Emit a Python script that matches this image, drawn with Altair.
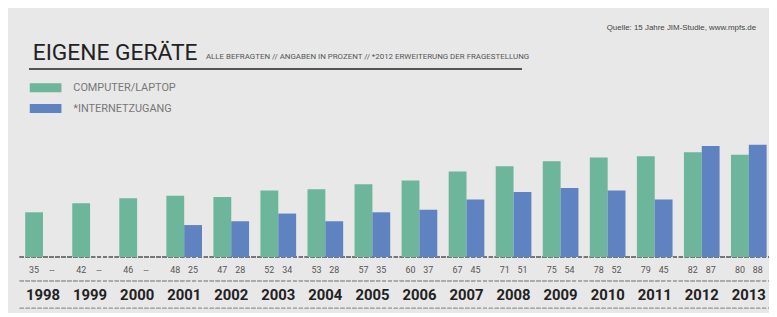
import altair as alt
import pandas as pd

years = [str(y) for y in range(1998, 2014)]
computer = [35, 42, 46, 48, 47, 52, 53, 57, 60, 67, 71, 75, 78, 79, 82, 80]
internet = [None, None, None, 25, 28, 34, 28, 35, 37, 45, 51, 54, 52, 45, 87, 88]
series = ["COMPUTER/LAPTOP", "*INTERNETZUGANG"]
colors = ["#6db59b", "#5e83c0"]

rows = []
for i, y in enumerate(years):
    for s, vals in zip(series, [computer, internet]):
        v = vals[i]
        rows.append({"year": y, "series": s, "value": v,
                     "label": "--" if v is None else str(v)})
df = pd.DataFrame(rows)
ydf = pd.DataFrame({"year": years})

FONT = "Roboto, sans-serif"
W, H = 754, 129
L, T = 15, 121
TOTAL_H = 305

xenc = alt.X("year:N", sort=years, axis=None,
             scale=alt.Scale(paddingInner=0.242, paddingOuter=0.05))
xoff = alt.XOffset("series:N", sort=series, scale=alt.Scale(domain=series, paddingInner=0, paddingOuter=0))

bars = alt.Chart(df).transform_filter("datum.value != null").mark_bar().encode(
    x=xenc,
    xOffset=xoff,
    y=alt.Y("value:Q", axis=None, scale=alt.Scale(domain=[0, 100])),
    color=alt.Color("series:N", sort=series,
                    scale=alt.Scale(domain=series, range=colors),
                    legend=alt.Legend(orient="none", legendX=7, legendY=-58, title=None,
                                      symbolType="M-1,-0.28L1,-0.28L1,0.28L-1,0.28Z",
                                      symbolSize=1024, symbolStrokeWidth=0,
                                      labelFont=FONT, labelFontSize=11, labelColor="#777777",
                                      labelOffset=12, rowPadding=0, padding=0)),
)

vlabels = alt.Chart(df).mark_text(font=FONT, fontSize=9, color="#555555").encode(
    x=xenc, xOffset=xoff, text="label:N", y=alt.value(H + 13))

ylabels = alt.Chart(ydf).mark_text(font=FONT, fontSize=15, fontWeight="bold", color="#222222").encode(
    x=xenc, text="year:N", y=alt.value(H + 38))

base_rule = alt.Chart(ydf).mark_rule(color="#777777", strokeWidth=1, strokeDash=[4, 2]).encode(
    x=alt.value(-3), x2=alt.value(W), y=alt.value(H))
mid_rule = alt.Chart(ydf).mark_rule(color="#aaaaaa", strokeWidth=1, strokeDash=[4, 2]).encode(
    x=alt.value(-3), x2=alt.value(W), y=alt.value(H + 24))
bot_rule = alt.Chart(ydf).mark_rule(color="#aaaaaa", strokeWidth=1, strokeDash=[4, 2]).encode(
    x=alt.value(-3), x2=alt.value(W), y=alt.value(H + 52))
title_rule = alt.Chart(ydf).mark_rule(color="#555555", strokeWidth=1.5).encode(
    x=alt.value(7), x2=alt.value(504), y=alt.value(-61))

title = alt.Chart(ydf).transform_filter("datum.year == '1998'").mark_text(
    font=FONT, fontSize=23, color="#222222", align="left", baseline="alphabetic").encode(
    x=alt.value(10), y=alt.value(-70), text=alt.value("EIGENE GERÄTE"))
subtitle = alt.Chart(ydf).transform_filter("datum.year == '1998'").mark_text(
    font=FONT, fontSize=8, color="#555555", align="left", baseline="alphabetic").encode(
    x=alt.value(185), y=alt.value(-71),
    text=alt.value("ALLE BEFRAGTEN // ANGABEN IN PROZENT // *2012 ERWEITERUNG DER FRAGESTELLUNG"))
source = alt.Chart(ydf).transform_filter("datum.year == '1998'").mark_text(
    font="Liberation Sans, Arial, sans-serif", fontSize=8, color="#444444", align="left",
    baseline="middle").encode(
    x=alt.value(590), y=alt.value(-102),
    text=alt.value("Quelle: 15 Jahre JIM-Studie, www.mpfs.de"))

chart = alt.layer(base_rule, mid_rule, bot_rule, bars, vlabels, ylabels,
                  title_rule, title, subtitle, source).properties(
    width=W, height=H,
    autosize=alt.AutoSizeParams(type="none"),
    padding={"left": L, "top": T, "right": 0, "bottom": TOTAL_H - T - H},
    background="#e8e8e8",
).configure_view(stroke=None)

chart.save("out.html", embed_options={"renderer": "svg", "actions": False})
